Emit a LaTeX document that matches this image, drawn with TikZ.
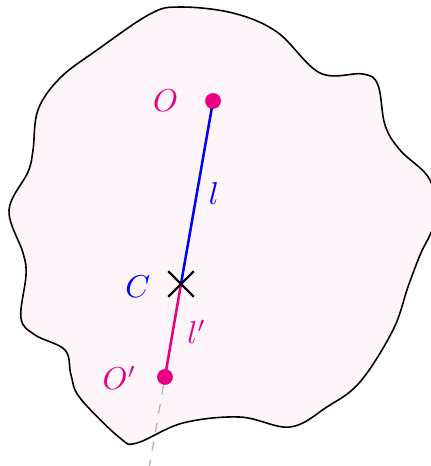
\documentclass[tikz,border=0pt]{standalone}
\usetikzlibrary{shapes.misc}
\definecolor{ptpink}{RGB}{233,0,130}
\begin{document}
\begin{tikzpicture}[scale=1.0,
    dotpt/.style={circle,fill=ptpink,inner sep=0pt,minimum size=4.9pt},
    crosspt/.style={cross out,draw,semithick,inner sep=0pt,minimum size=0.26cm},
    ptlabel/.style={inner sep=0pt}]
    \clip (0,0) rectangle (4.789,5.178);
    % the region
    \draw[line width=0.5pt,fill=ptpink!4] plot[smooth cycle,tension=0.6] coordinates {
      (2.000,5.100) (2.589,5.033) (3.078,4.822) (3.556,4.367) (4.033,4.356)
      (4.200,4.233) (4.278,3.789) (4.444,3.511) (4.778,3.178) (4.833,2.733)
      (4.667,2.344) (4.533,1.989) (4.367,1.511) (4.000,0.933) (3.633,0.656)
      (3.222,0.433) (2.667,0.544) (2.033,0.478) (1.522,0.256) (1.333,0.311)
      (0.889,0.756) (0.789,1.011) (0.722,1.289) (0.389,1.456) (0.233,1.644)
      (0.289,2.122) (0.256,2.367) (0.100,2.844) (0.311,3.267) (0.367,3.511)
      (0.422,3.956) (0.667,4.311) (1.078,4.622) (1.667,5.022)};
    \node[dotpt] (O) at (2.367,4.056) {};
    \node[crosspt] (C) at (2.011,2.022) {};
    \node[dotpt] (Op) at (1.833,0.989) {};
    \coordinate (axisEnd) at (1.64,-0.12);
    \draw[gray!60,dashed] (Op) -- (axisEnd);
    \draw[thick,blue] (O.center) -- (C.center);
    \draw[thick,ptpink] (C.center) -- (Op.center);
    \node[dotpt] at (O) {};
    \node[dotpt] at (Op) {};
    \node[crosspt] at (C) {};
    % labels
    \node[ptlabel,text=ptpink] (lblO) at (1.841,4.058) {$O$};
    \node[ptlabel,text=blue] (lblL) at (2.378,3.030) {$l$};
    \node[ptlabel,text=blue] (lblC) at (1.530,1.993) {$C$};
    \node[ptlabel,text=ptpink] (lblLp) at (2.186,1.492) {$l'$};
    \node[ptlabel,text=ptpink] (lblOp) at (1.328,0.978) {$O'$};
  \end{tikzpicture}
\end{document}
